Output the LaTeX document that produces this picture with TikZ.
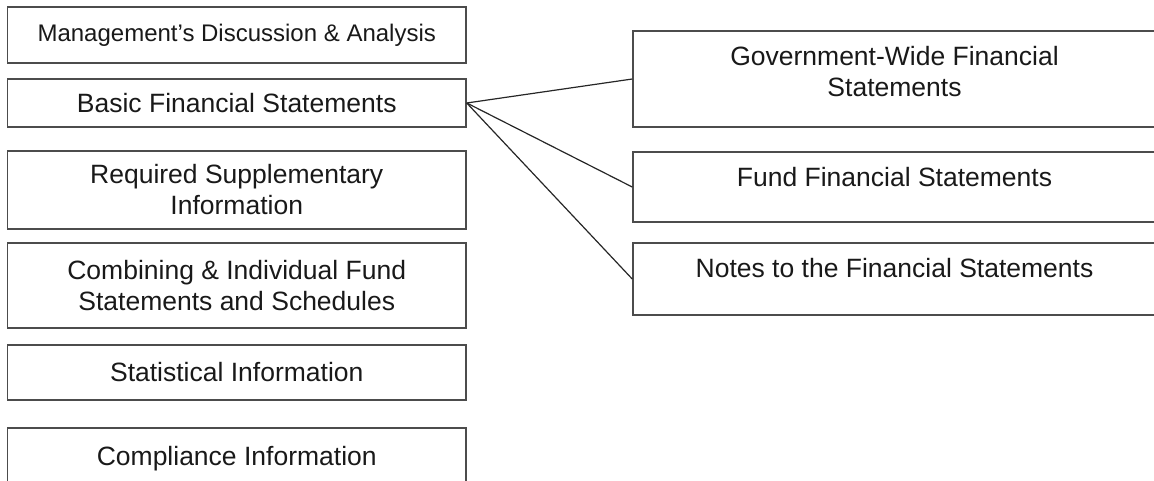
\documentclass[tikz,border=0pt]{standalone}
\usepackage{fontspec}
\setmainfont{Liberation Sans}
\begin{document}
\begin{tikzpicture}[x=1pt,y=-1pt,
        box/.style={draw=black!70,line width=1.5pt,text=black!90,inner sep=0pt,
            align=center,font=\fontsize{26.5}{31}\selectfont},
        lbox/.style={box,minimum width=458.5pt},
        rbox/.style={box,minimum width=523pt},
        toptext/.style={anchor=north,yshift=-16pt,inner sep=0pt,align=center,
            text=black!90,font=\fontsize{26.5}{31}\selectfont},
        link/.style={draw=black!85,line width=1.2pt}]
    \useasboundingbox (0,0) rectangle (1154,480);
    % left column
    \node[lbox,minimum height=56pt,font=\fontsize{24}{28}\selectfont] (mda) at (236.75,35) {Management's Discussion \& Analysis};
    \node[lbox,minimum height=48pt] (bfs) at (236.75,103) {Basic Financial Statements};
    \node[lbox,minimum height=78pt] (rsi) at (236.75,190) {Required Supplementary\\Information};
    \node[lbox,minimum height=85pt] (cifs) at (236.75,285.5) {Combining \& Individual Fund\\Statements and Schedules};
    \node[lbox,minimum height=55pt] (stat) at (236.75,372.5) {Statistical Information};
    \node[lbox,minimum height=62pt] (comp) at (236.75,459) {Compliance Information};
    % right column
    \node[rbox,minimum height=96pt,label={[toptext]north:Government-Wide Financial\\Statements}] (gwfs) at (894.5,79) {};
    \node[rbox,minimum height=70pt,label={[toptext]north:Fund Financial Statements}] (ffs) at (894.5,187) {};
    \node[rbox,minimum height=72pt,label={[toptext]north:Notes to the Financial Statements}] (notes) at (894.5,279) {};
    \draw[link] (bfs.east) -- (gwfs.west);
    \draw[link] (bfs.east) -- (ffs.west);
    \draw[link] (bfs.east) -- (notes.west);
\end{tikzpicture}
\end{document}
